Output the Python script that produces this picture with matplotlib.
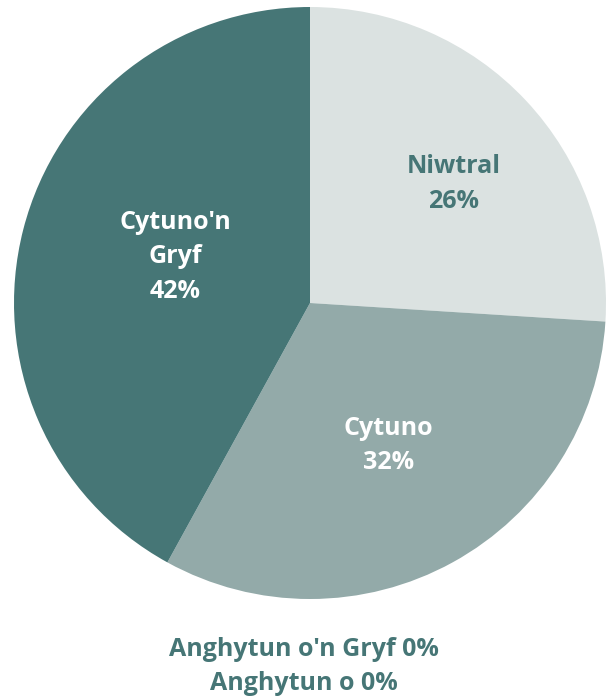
import numpy as np
import matplotlib
matplotlib.use("Agg")
import matplotlib.pyplot as plt

categories = ["Niwtral", "Cytuno", "Cytuno'n\nGryf"]
values = [26, 32, 42]
colors = ["#dbe2e1", "#93aaa9", "#467676"]
label_colors = ["#467676", "white", "white"]
zero_categories = ["Anghytun o'n Gryf", "Anghytun o"]
zero_values = [0, 0]

plt.rcParams['font.family'] = ['Open Sans', 'DejaVu Sans']

fig = plt.figure(figsize=(6.07, 6.96), dpi=100)
ax = fig.add_axes([14/607, 1 - 599/696, 592/607, 592/696])
wedges, _ = ax.pie(values, colors=colors, startangle=90, counterclock=False,
                   wedgeprops=dict(linewidth=0))
ax.set_aspect('equal')
ax.set_xlim(-1, 1)
ax.set_ylim(-1, 1)
label_r = [0.63, 0.55, 0.48]
label_dang = [-3.5, 0.0, -4.5]
for w, cat, v, lc, r, da in zip(wedges, categories, values, label_colors, label_r, label_dang):
    ang = np.deg2rad((w.theta1 + w.theta2) / 2 + da)
    ax.text(r * np.cos(ang), r * np.sin(ang), f"{cat}\n{v}%", ha='center', va='center',
            color=lc, fontsize=18, fontweight='bold', linespacing=1.5)

for i, (c, v) in enumerate(zip(zero_categories, zero_values)):
    fig.text(0.5, 1 - (650 + 34 * i) / 696, f"{c} {v}%", ha='center', va='center',
             color="#467676", fontsize=18, fontweight='bold')

fig.savefig("out.png", dpi=100, facecolor='white')
